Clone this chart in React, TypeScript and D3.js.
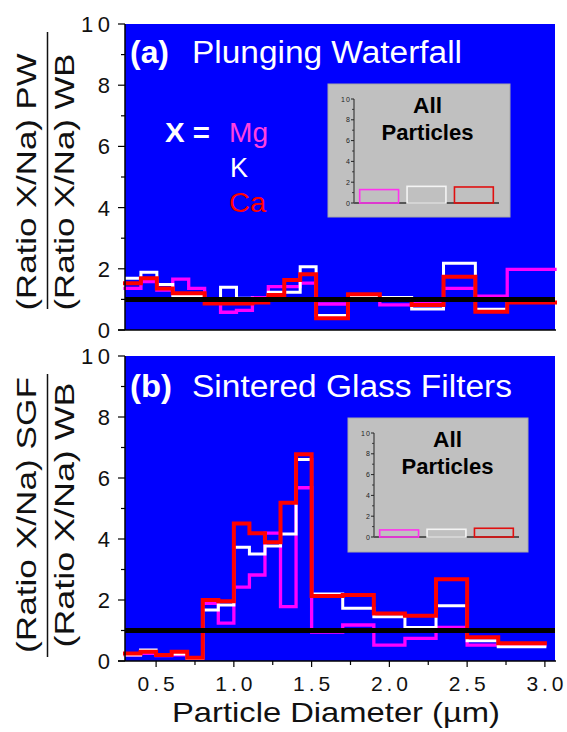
import React from 'react';
import * as d3 from 'd3';

// ---------- data ----------
const binEdges = [0.3, 0.4, 0.5, 0.6, 0.7, 0.8, 0.9, 1.0, 1.1, 1.2, 1.3, 1.4, 1.5, 1.7, 1.9, 2.1, 2.3, 2.5, 2.7, 3.0];

const pwMg = [1.36, 1.58, 1.30, 1.66, 1.36, 0.95, 0.58, 0.64, 1.06, 1.42, 1.42, 1.53, 0.85, 1.02, 0.82, 0.86, 1.36, 1.11, 1.98];
const pwK = [1.69, 1.89, 1.49, 1.11, 1.11, 0.95, 1.40, 1.04, 1.00, 1.23, 1.23, 2.07, 0.47, 1.06, 1.06, 0.69, 2.18, 0.68, 0.93];
const pwCa = [1.53, 1.69, 1.36, 1.20, 1.20, 0.87, 0.87, 0.87, 0.90, 1.14, 1.63, 1.82, 0.38, 1.17, 1.00, 0.82, 1.74, 0.60, 0.90];

const sgfMg = [0.20, 0.25, 0.18, 0.20, 0.10, 1.89, 1.24, 2.42, 2.82, 4.19, 1.78, 5.68, 0.95, 1.18, 0.52, 0.74, 1.10, 0.52, 0.52];
const sgfK = [0.20, 0.36, 0.20, 0.23, 0.08, 1.67, 1.84, 3.73, 3.51, 3.77, 4.16, 6.61, 2.20, 1.73, 1.45, 1.10, 1.81, 0.66, 0.47];
const sgfCa = [0.25, 0.30, 0.20, 0.30, 0.11, 2.00, 1.96, 4.51, 4.19, 3.89, 5.19, 6.78, 2.13, 2.16, 1.56, 1.48, 2.68, 0.78, 0.58];

const insetCategories = ['Mg', 'K', 'Ca'];
const insetPW = [1.29, 1.6, 1.54];
const insetSGF = [0.68, 0.74, 0.84];

const yTicks = [0, 2, 4, 6, 8, 10];
const yMinor = [1, 3, 5, 7, 9];
const xTicks = [0.5, 1.0, 1.5, 2.0, 2.5, 3.0];
const xMinor = [0.75, 1.25, 1.75, 2.25, 2.75];
const insetTicks = [0, 2, 4, 6, 8, 10];
const refValue = 1;

const FONT = 'Arial, "Liberation Sans", Helvetica, sans-serif';
const MAGENTA = '#ff00ff';
const RED = '#ff0000';
const WHITE = '#ffffff';
const BLUE = '#0000ff';

const LEFT = 125;
const RIGHT = 555;

type Series = { values: number[]; color: string; width: number };

function stepPath(x: d3.ScaleLinear<number, number>, y: d3.ScaleLinear<number, number>, vals: number[]) {
  const pts: [number, number][] = binEdges.map((e, i) => [e, vals[Math.min(i, vals.length - 1)]]);
  const line = d3.line<[number, number]>()
    .x(d => x(d[0]))
    .y(d => y(d[1]))
    .curve(d3.curveStepAfter);
  return line(pts) || '';
}

function Inset({ bx, by, bw, bh, values }: { bx: number; by: number; bw: number; bh: number; values: number[] }) {
  const ax = bx + 26;
  const axR = bx + 171;
  const y = d3.scaleLinear().domain([0, 10]).range([by + 119, by + 15]);
  const xb = d3.scaleBand<string>().domain(insetCategories).range([ax, axR]).paddingInner(0.18).paddingOuter(0.12);
  const colors = ['#ff33ee', '#f4f4f4', '#e01010'];
  const cx = (ax + axR) / 2 + 1;
  return (
    <g>
      <rect x={bx} y={by} width={bw} height={bh} fill="#c0c0c0" stroke="#a8a8a8" strokeWidth={1} />
      <line x1={ax} x2={ax} y1={y(10)} y2={y(0)} stroke="#222" strokeWidth={1} />
      {insetTicks.map(t => (
        <g key={t}>
          <line x1={ax - 3} x2={ax} y1={y(t)} y2={y(t)} stroke="#222" strokeWidth={1} />
          <text x={ax - 4} y={y(t) + 2.5} fontSize={7} textAnchor="end" fill="#222" fontFamily={FONT}
            {...(t >= 10 ? { textLength: 9, lengthAdjust: 'spacing' } : {})}>{t}</text>
        </g>
      ))}
      {[1, 3, 5, 7, 9].map(t => (
        <line key={t} x1={ax - 2} x2={ax} y1={y(t)} y2={y(t)} stroke="#222" strokeWidth={0.8} />
      ))}
      <line x1={ax} x2={axR} y1={y(0)} y2={y(0)} stroke="#555" strokeWidth={2} />
      {values.map((v, i) => (
        <rect key={i} x={xb(insetCategories[i])} y={y(v)} width={xb.bandwidth()} height={y(0) - y(v)}
          fill="none" stroke={colors[i]} strokeWidth={1.6} />
      ))}
      <text x={cx} y={by + 29} fontSize={22} fontWeight="bold" textAnchor="middle" fill="#000" fontFamily={FONT}
        textLength={29} lengthAdjust="spacingAndGlyphs">All</text>
      <text x={cx} y={by + 56} fontSize={22} fontWeight="bold" textAnchor="middle" fill="#000" fontFamily={FONT}
        textLength={92} lengthAdjust="spacingAndGlyphs">Particles</text>
    </g>
  );
}

function Panel({ top, bottom, xMax, series, showXAxis }: {
  top: number; bottom: number; xMax: number; series: Series[]; showXAxis: boolean;
}) {
  const x = d3.scaleLinear().domain([0.3, xMax]).range([LEFT, RIGHT]);
  const y = d3.scaleLinear().domain([0, 10]).range([bottom, top]);
  return (
    <g>
      <rect x={LEFT} y={top} width={RIGHT - LEFT} height={bottom - top} fill={BLUE} />
      {series.map((s, i) => (
        <path key={i} d={stepPath(x, y, s.values)} fill="none" stroke={s.color} strokeWidth={s.width}
          strokeLinejoin="miter" strokeLinecap="square" />
      ))}
      <line x1={LEFT} x2={RIGHT} y1={y(refValue)} y2={y(refValue)} stroke="#000" strokeWidth={5} />
      {/* left axis */}
      <line x1={LEFT} x2={LEFT} y1={top} y2={bottom} stroke="#000" strokeWidth={1.5} />
      {yTicks.map(t => (
        <g key={t}>
          <line x1={LEFT - 7} x2={LEFT} y1={y(t)} y2={y(t)} stroke="#000" strokeWidth={1.2} />
          <text x={110} y={y(t) + 8} fontSize={22} textAnchor="end" fill="#111" fontFamily={FONT}
            {...(t >= 10 ? { textLength: 29, lengthAdjust: 'spacing' } : {})}>{t}</text>
        </g>
      ))}
      {yMinor.map(t => (
        <line key={t} x1={LEFT - 4} x2={LEFT} y1={y(t)} y2={y(t)} stroke="#000" strokeWidth={1.2} />
      ))}
      {/* bottom axis */}
      <line x1={LEFT - 7} x2={RIGHT + 1} y1={bottom} y2={bottom} stroke="#000" strokeWidth={1.5} />
      {showXAxis && xTicks.map(t => (
        <g key={t}>
          <line x1={x(t)} x2={x(t)} y1={bottom} y2={bottom + 6} stroke="#000" strokeWidth={1.2} />
          <text x={x(t)} y={691} fontSize={21} textAnchor="middle" fill="#111" fontFamily={FONT}
            textLength={37} lengthAdjust="spacing">{t.toFixed(1)}</text>
        </g>
      ))}
      {showXAxis && xMinor.map(t => (
        <line key={t} x1={x(t)} x2={x(t)} y1={bottom} y2={bottom + 4} stroke="#000" strokeWidth={1.2} />
      ))}
    </g>
  );
}

function FracLabel({ cy, num, den, numLen, denLen, lineTop, lineBottom }: {
  cy: number; num: string; den: string; numLen: number; denLen: number; lineTop: number; lineBottom: number;
}) {
  return (
    <g fontFamily={FONT} fontSize={28} fill="#111">
      <text transform={`translate(36,${cy}) rotate(-90)`} textAnchor="middle" textLength={numLen} lengthAdjust="spacingAndGlyphs">{num}</text>
      <line x1={47.5} x2={47.5} y1={lineTop} y2={lineBottom} stroke="#111" strokeWidth={1.5} />
      <text transform={`translate(74,${cy}) rotate(-90)`} textAnchor="middle" textLength={denLen} lengthAdjust="spacingAndGlyphs">{den}</text>
    </g>
  );
}

export default function App() {
  const pwSeries: Series[] = [
    { values: pwMg, color: MAGENTA, width: 3.3 },
    { values: pwK, color: WHITE, width: 3 },
    { values: pwCa, color: RED, width: 4 },
  ];
  const sgfSeries: Series[] = [
    { values: sgfMg, color: MAGENTA, width: 3.3 },
    { values: sgfK, color: WHITE, width: 3 },
    { values: sgfCa, color: RED, width: 4 },
  ];
  return (
    <svg width={567} height={732} style={{ position: 'absolute', left: 0, top: 0, background: '#fff' }}
      fontFamily={FONT}>
      <Panel top={24} bottom={330} xMax={3.0} series={pwSeries} showXAxis={false} />
      <Panel top={356} bottom={661} xMax={3.065} series={sgfSeries} showXAxis={true} />

      {/* panel titles */}
      <text x={130} y={63} fontSize={31} fontWeight="bold" fill="#fff" textLength={39} lengthAdjust="spacingAndGlyphs">(a)</text>
      <text x={192} y={63} fontSize={31} fill="#fff" textLength={270} lengthAdjust="spacingAndGlyphs">Plunging Waterfall</text>
      <text x={130} y={397} fontSize={31} fontWeight="bold" fill="#fff" textLength={42} lengthAdjust="spacingAndGlyphs">(b)</text>
      <text x={192} y={397} fontSize={31} fill="#fff" textLength={320} lengthAdjust="spacingAndGlyphs">Sintered Glass Filters</text>

      {/* legend */}
      <text x={165} y={142} fontSize={27} fontWeight="bold" fill="#fff" textLength={45} lengthAdjust="spacingAndGlyphs">X =</text>
      <text x={229} y={142} fontSize={27} fill="#ff40e0" textLength={39} lengthAdjust="spacingAndGlyphs">Mg</text>
      <text x={230} y={177} fontSize={27} fill="#fff">K</text>
      <text x={229} y={212} fontSize={27} fill={RED} textLength={37} lengthAdjust="spacingAndGlyphs">Ca</text>

      <Inset bx={328} by={84} bw={182} bh={133} values={insetPW} />
      <Inset bx={348} by={418} bw={180} bh={134} values={insetSGF} />

      <FracLabel cy={182} num="(Ratio X/Na) PW" den="(Ratio X/Na) WB" numLen={257} denLen={257} lineTop={32} lineBottom={309} />
      <FracLabel cy={515} num="(Ratio X/Na) SGF" den="(Ratio X/Na) WB" numLen={276} denLen={265} lineTop={374} lineBottom={657} />

      <text x={336} y={722} fontSize={28} textAnchor="middle" fill="#111" textLength={328} lengthAdjust="spacingAndGlyphs">Particle Diameter (µm)</text>
    </svg>
  );
}
